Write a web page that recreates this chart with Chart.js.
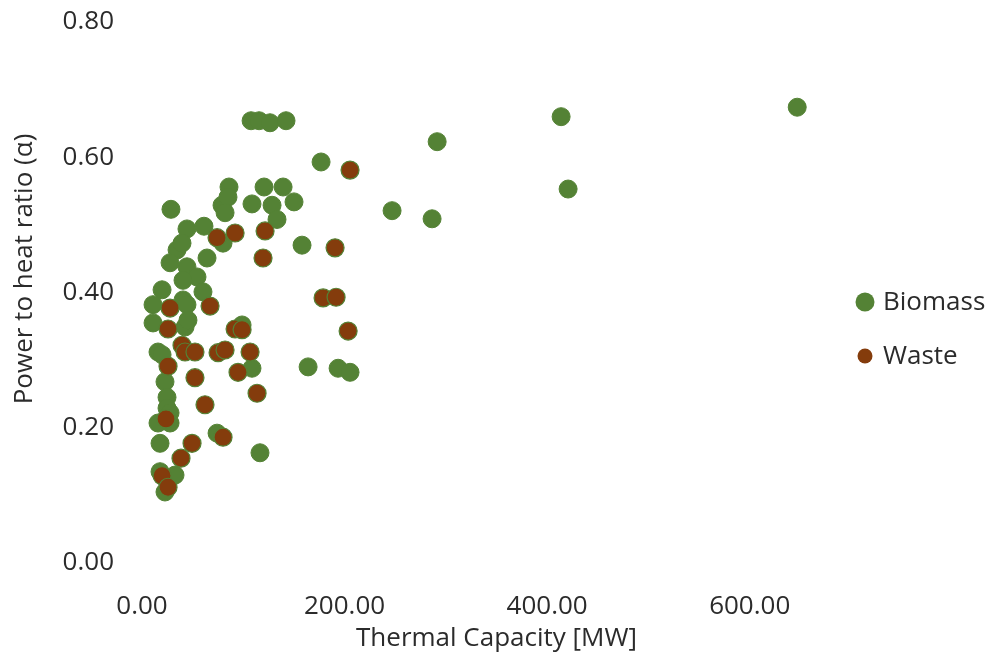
<!DOCTYPE html>
<html>
<head>
<meta charset="utf-8">
<script src="https://cdn.jsdelivr.net/npm/chart.js@4/dist/chart.umd.min.js"></script>
<style>
  html, body { margin: 0; padding: 0; background: #ffffff; }
  #wrap { width: 995px; height: 662px; }
</style>
</head>
<body>
<div id="wrap"><canvas id="c" width="995" height="662"></canvas></div>
<script>
// ---- Data ----
const seriesNames = ['Biomass', 'Waste'];
const biomassX = [107.7,115.6,126.4,142.2,176.8,291.4,413.8,646.9,420.7,246.9,286.4,85.9,120.5,139.3,108.6,128.4,150.1,79.0,84.9,82.0,133.3,28.6,44.4,61.2,80.0,158.0,34.6,39.5,64.2,27.7,44.4,54.3,40.5,19.8,60.2,40.5,10.9,44.4,10.9,42.5,98.8,15.8,19.8,108.6,164.0,193.6,205.4,22.7,24.7,24.7,27.7,15.8,27.7,17.8,74.1,116.5,17.8,32.6,22.7,45.4];
const biomassY = [0.654,0.654,0.651,0.654,0.593,0.623,0.660,0.674,0.553,0.521,0.509,0.556,0.556,0.556,0.531,0.529,0.534,0.529,0.541,0.518,0.508,0.523,0.494,0.498,0.473,0.470,0.463,0.473,0.451,0.444,0.438,0.423,0.418,0.404,0.401,0.389,0.382,0.382,0.355,0.349,0.352,0.312,0.308,0.288,0.290,0.288,0.282,0.268,0.245,0.229,0.222,0.207,0.207,0.177,0.192,0.163,0.135,0.130,0.105,0.359];
const wasteX = [205.4,74.1,91.9,121.5,119.5,190.6,178.8,191.6,203.5,27.7,67.2,25.7,91.9,98.8,39.5,42.5,52.3,75.1,82.0,106.7,25.7,94.8,52.3,113.6,62.2,23.7,49.4,80.0,38.5,19.8,25.7];
const wasteY = [0.581,0.481,0.488,0.491,0.451,0.466,0.392,0.393,0.343,0.377,0.380,0.346,0.346,0.345,0.322,0.312,0.312,0.311,0.315,0.312,0.291,0.282,0.274,0.251,0.234,0.213,0.177,0.186,0.155,0.129,0.112];
const xTickValues = [0, 200, 400, 600];
const xTickLabels = ['0.00', '200.00', '400.00', '600.00'];
const yTickValues = [0, 0.2, 0.4, 0.6, 0.8];
const yTickLabels = ['0.00', '0.20', '0.40', '0.60', '0.80'];
const xTitle = 'Thermal Capacity [MW]';
const yTitle = 'Power to heat ratio (\u03B1)';

// ---- Styling ----
const GREEN = '#548235';
const BROWN = '#843C0C';
const TEXT = '#2b2b2b';
const FONT = '"Open Sans", "Noto Sans", sans-serif';
const FSIZE = 26;

const toPts = (xs, ys) => xs.map((x, i) => ({ x: x, y: ys[i] }));

const yTitlePlugin = {
  id: 'yTitle',
  afterDraw(chart) {
    const ctx = chart.ctx;
    ctx.save();
    ctx.font = FSIZE + 'px ' + FONT;
    ctx.fillStyle = TEXT;
    ctx.textAlign = 'center';
    ctx.textBaseline = 'middle';
    ctx.translate(25, 269);
    ctx.rotate(-Math.PI / 2);
    ctx.fillText(yTitle, 0, 0);
    ctx.restore();
  }
};

const legendPlugin = {
  id: 'customLegend',
  afterDraw(chart) {
    const ctx = chart.ctx;
    const items = [
      { text: seriesNames[0], color: GREEN, r: 9.5, y: 302 },
      { text: seriesNames[1], color: BROWN, r: 7.5, y: 356 }
    ];
    ctx.save();
    ctx.font = FSIZE + 'px ' + FONT;
    ctx.textAlign = 'left';
    ctx.textBaseline = 'middle';
    items.forEach(it => {
      ctx.beginPath();
      ctx.arc(865, it.y, it.r, 0, Math.PI * 2);
      ctx.fillStyle = it.color;
      ctx.fill();
      ctx.fillStyle = TEXT;
      ctx.fillText(it.text, 883, it.y + 1);
    });
    ctx.restore();
  }
};

new Chart(document.getElementById('c'), {
  type: 'scatter',
  data: {
    datasets: [
      {
        label: seriesNames[0],
        data: toPts(biomassX, biomassY),
        backgroundColor: GREEN,
        borderColor: GREEN,
        borderWidth: 1,
        pointRadius: 9,
        pointHoverRadius: 9,
        order: 1
      },
      {
        label: seriesNames[1],
        data: toPts(wasteX, wasteY),
        backgroundColor: BROWN,
        borderColor: GREEN,
        borderWidth: 1.2,
        pointRadius: 9,
        pointHoverRadius: 9,
        order: 0
      }
    ]
  },
  options: {
    responsive: false,
    animation: false,
    devicePixelRatio: 1,
    layout: { padding: { left: 0, top: 22, right: 144, bottom: 0 } },
    plugins: {
      legend: { display: false },
      tooltip: { enabled: false }
    },
    scales: {
      x: {
        type: 'linear',
        min: 0,
        max: 700,
        grid: { display: false, drawTicks: true, tickLength: 28 },
        border: { display: false },
        afterBuildTicks: (s) => { s.ticks = xTickValues.map(v => ({ value: v })); },
        afterFit: (s) => { s.height = 99; },
        ticks: {
          color: TEXT,
          font: { family: FONT, size: FSIZE },
          padding: 0,
          maxRotation: 0,
          callback: (v) => { const i = xTickValues.indexOf(v); return i >= 0 ? xTickLabels[i] : ''; }
        },
        title: {
          display: true,
          text: xTitle,
          color: TEXT,
          font: { family: FONT, size: FSIZE },
          padding: { top: 0, bottom: 8 }
        }
      },
      y: {
        type: 'linear',
        min: 0,
        max: 0.8,
        grid: { display: false, drawTicks: true, tickLength: 28 },
        border: { display: false },
        afterBuildTicks: (s) => { s.ticks = yTickValues.map(v => ({ value: v })); },
        afterFit: (s) => { s.width = 142; },
        ticks: {
          color: TEXT,
          font: { family: FONT, size: FSIZE },
          padding: 0,
          callback: (v) => { const i = yTickValues.findIndex(t => Math.abs(t - v) < 1e-9); return i >= 0 ? yTickLabels[i] : ''; }
        }
      }
    }
  },
  plugins: [yTitlePlugin, legendPlugin]
});
</script>
</body>
</html>
